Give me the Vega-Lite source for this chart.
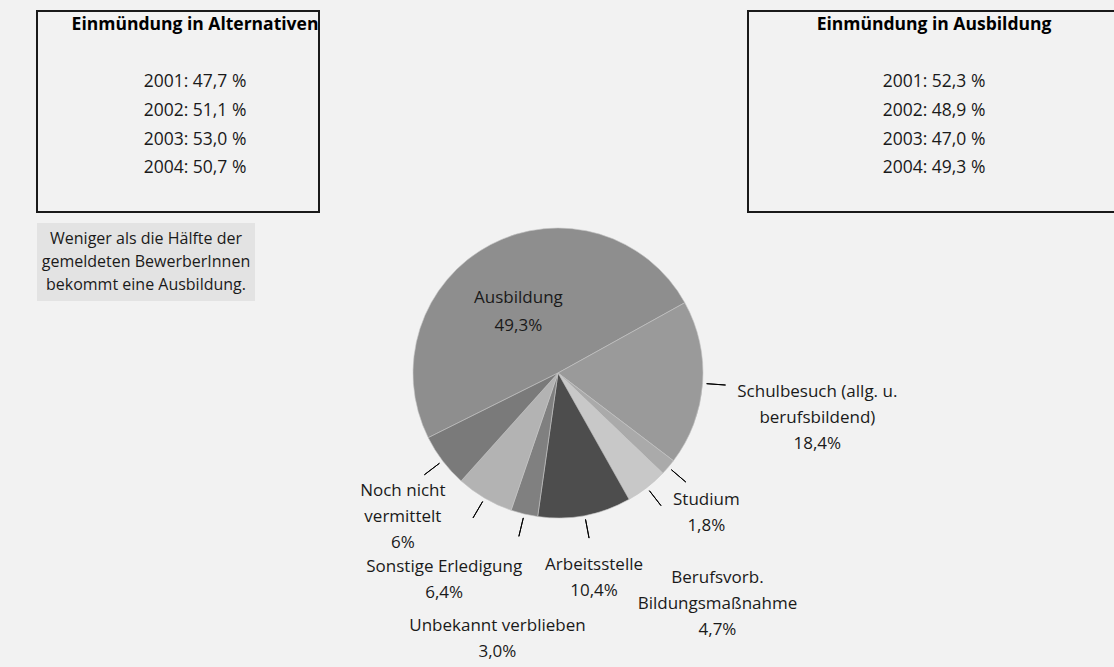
{
  "$schema": "https://vega.github.io/schema/vega-lite/v6.json",
  "background": "#f2f2f2",
  "padding": {"left": 36, "top": 10, "right": 0, "bottom": 20},
  "config": {
    "view": {"stroke": null},
    "font": "Open Sans",
    "text": {"font": "Open Sans", "color": "#1a1a1a"}
  },
  "datasets": {
    "verlauf": [
      {"jahr": 2001, "alternativen": 47.7, "ausbildung": 52.3},
      {"jahr": 2002, "alternativen": 51.1, "ausbildung": 48.9},
      {"jahr": 2003, "alternativen": 53.0, "ausbildung": 47.0},
      {"jahr": 2004, "alternativen": 50.7, "ausbildung": 49.3}
    ],
    "verbleib": [
      {"kategorie": "Ausbildung", "anteil": 49.3, "beschriftung": "Ausbildung\n49,3%"},
      {"kategorie": "Schulbesuch", "anteil": 18.4, "beschriftung": "Schulbesuch (allg. u.\nberufsbildend)\n18,4%"},
      {"kategorie": "Studium", "anteil": 1.8, "beschriftung": "Studium\n1,8%"},
      {"kategorie": "Berufsvorbereitung", "anteil": 4.7, "beschriftung": "Berufsvorb.\nBildungsmaßnahme\n4,7%"},
      {"kategorie": "Arbeitsstelle", "anteil": 10.4, "beschriftung": "Arbeitsstelle\n10,4%"},
      {"kategorie": "Unbekannt verblieben", "anteil": 3.0, "beschriftung": "Unbekannt verblieben\n3,0%"},
      {"kategorie": "Sonstige Erledigung", "anteil": 6.4, "beschriftung": "Sonstige Erledigung\n6,4%"},
      {"kategorie": "Noch nicht vermittelt", "anteil": 6, "beschriftung": "Noch nicht\nvermittelt\n6%"}
    ]
  },
  "bounds": "full",
  "spacing": 10,
  "vconcat": [
    {
      "bounds": "flush",
      "spacing": 429,
      "hconcat": [
        {
          "width": 282,
          "height": 201,
          "view": {"stroke": "#1a1a1a", "strokeWidth": 2},
          "encoding": {
            "y": {
              "field": "zeile",
              "type": "nominal",
              "axis": null,
              "scale": {"type": "point", "domain": ["Überschrift", "Abstand", "2001", "2002", "2003", "2004"], "padding": 1.026, "align": 0.24}
            }
          },
          "layer": [
            {
              "data": {"values": [{"zeile": "Überschrift"}]},
              "mark": {"type": "text", "text": "Einmündung in Alternativen", "fontSize": 17.5, "fontWeight": "bold", "color": "#000000", "dx": 17}
            },
            {
              "data": {"name": "verlauf"},
              "transform": [
                {"calculate": "'' + datum.jahr", "as": "zeile"},
                {"calculate": "datum.jahr + ': ' + replace(format(datum.alternativen, '.1f'), '.', ',') + ' %'", "as": "eintrag"}
              ],
              "mark": {"type": "text", "fontSize": 17.5, "dx": 17},
              "encoding": {"text": {"field": "eintrag"}}
            }
          ]
        },
        {
          "width": 372,
          "height": 201,
          "view": {"stroke": "#1a1a1a", "strokeWidth": 2},
          "encoding": {
            "y": {
              "field": "zeile",
              "type": "nominal",
              "axis": null,
              "scale": {"type": "point", "domain": ["Überschrift", "Abstand", "2001", "2002", "2003", "2004"], "padding": 1.026, "align": 0.24}
            }
          },
          "layer": [
            {
              "data": {"values": [{"zeile": "Überschrift"}]},
              "mark": {"type": "text", "text": "Einmündung in Ausbildung", "fontSize": 17.5, "fontWeight": "bold", "color": "#000000"}
            },
            {
              "data": {"name": "verlauf"},
              "transform": [
                {"calculate": "'' + datum.jahr", "as": "zeile"},
                {"calculate": "datum.jahr + ': ' + replace(format(datum.ausbildung, '.1f'), '.', ',') + ' %'", "as": "eintrag"}
              ],
              "mark": {"type": "text", "fontSize": 17.5},
              "encoding": {"text": {"field": "eintrag"}}
            }
          ]
        }
      ]
    },
    {
      "bounds": "flush",
      "spacing": 20,
      "hconcat": [
        {
          "width": 218,
          "height": 78,
          "view": {"fill": "#e3e3e3", "stroke": null},
          "data": {"values": [{}]},
          "mark": {
            "type": "text",
            "text": ["Weniger als die Hälfte der", "gemeldeten BewerberInnen", "bekommt eine Ausbildung."],
            "fontSize": 16,
            "lineHeight": 23,
            "dy": -23
          }
        },
        {
          "width": 566,
          "height": 300,
          "data": {"name": "verbleib"},
          "transform": [
            {"window": [{"op": "row_number", "as": "nr"}]},
            {"stack": "anteil", "groupby": [], "sort": [{"field": "nr", "order": "ascending"}], "as": ["start", "ende"]},
            {"calculate": "(datum.start + datum.ende) / 2", "as": "mitte"}
          ],
          "layer": [
            {
              "mark": {"type": "arc", "outerRadius": 145, "stroke": "#c4c4c4", "strokeWidth": 0.6},
              "encoding": {
                "theta": {"field": "start", "type": "quantitative", "stack": null, "scale": {"domain": [0, 100], "range": [4.25, 10.5332]}},
                "theta2": {"field": "ende"},
                "color": {
                  "field": "kategorie",
                  "type": "nominal",
                  "legend": null,
                  "scale": {
                    "domain": ["Ausbildung", "Schulbesuch", "Studium", "Berufsvorbereitung", "Arbeitsstelle", "Unbekannt verblieben", "Sonstige Erledigung", "Noch nicht vermittelt"],
                    "range": ["#8e8e8e", "#9a9a9a", "#aaaaaa", "#c8c8c8", "#4d4d4d", "#808080", "#b3b3b3", "#7a7a7a"]
                  }
                }
              }
            },
            {
              "transform": [{"filter": "datum.kategorie !== 'Ausbildung'"}],
              "mark": {"type": "arc", "innerRadius": 149, "outerRadius": 168, "fillOpacity": 0, "stroke": "#000000", "strokeWidth": 1},
              "encoding": {
                "theta": {"field": "mitte", "type": "quantitative", "stack": null, "scale": {"domain": [0, 100], "range": [4.25, 10.5332]}},
                "theta2": {"field": "mitte"}
              }
            },
            {
              "transform": [{"filter": "datum.kategorie === 'Ausbildung'"}],
              "mark": {"type": "text", "radius": 85, "fontSize": 17, "lineHeight": 28, "lineBreak": "\n"},
              "encoding": {
                "theta": {"field": "mitte", "type": "quantitative", "stack": null, "scale": {"domain": [0, 100], "range": [4.25, 10.5332]}},
                "text": {"field": "beschriftung"}
              }
            },
            {
              "transform": [{"filter": "indexof(['Studium', 'Arbeitsstelle', 'Noch nicht vermittelt'], datum.kategorie) >= 0"}],
              "mark": {"type": "text", "radius": 195, "fontSize": 17, "lineHeight": 26, "lineBreak": "\n"},
              "encoding": {
                "theta": {"field": "mitte", "type": "quantitative", "stack": null, "scale": {"domain": [0, 100], "range": [4.25, 10.5332]}},
                "text": {"field": "beschriftung"}
              }
            },
            {
              "transform": [{"filter": "datum.kategorie === 'Sonstige Erledigung'"}],
              "mark": {"type": "text", "radius": 225, "fontSize": 17, "lineHeight": 26, "lineBreak": "\n"},
              "encoding": {
                "theta": {"field": "mitte", "type": "quantitative", "stack": null, "scale": {"domain": [0, 100], "range": [4.25, 10.5332]}},
                "text": {"field": "beschriftung"}
              }
            },
            {
              "transform": [{"filter": "indexof(['Schulbesuch', 'Berufsvorbereitung', 'Unbekannt verblieben'], datum.kategorie) >= 0"}],
              "mark": {"type": "text", "radius": 260, "fontSize": 17, "lineHeight": 26, "lineBreak": "\n"},
              "encoding": {
                "theta": {"field": "mitte", "type": "quantitative", "stack": null, "scale": {"domain": [0, 100], "range": [4.25, 10.5332]}},
                "text": {"field": "beschriftung"}
              }
            }
          ]
        }
      ]
    }
  ]
}
